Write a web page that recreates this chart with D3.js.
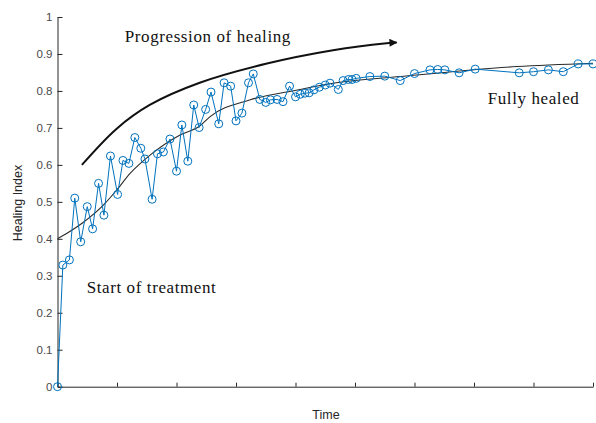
<!DOCTYPE html>
<html>
<head>
<meta charset="utf-8">
<script src="https://cdn.jsdelivr.net/npm/d3@7"></script>
<style>
  html, body { margin: 0; padding: 0; background: #fff; }
  svg { display: block; }
  .axis path, .axis line { stroke: #262626; }
  .axis text { fill: #4a4a4a; font-family: "Liberation Sans", Arial, sans-serif; font-size: 11.5px; }
</style>
</head>
<body>
<div id="chart"></div>
<script>
// measured samples (time, healing index)
var timePoints = [0, 0.09, 0.20, 0.29, 0.39, 0.50, 0.59, 0.69, 0.78, 0.89,
  1.01, 1.10, 1.20, 1.30, 1.40, 1.47, 1.59, 1.68, 1.78, 1.89,
  2.00, 2.09, 2.19, 2.29, 2.38, 2.49, 2.58, 2.71, 2.80, 2.91,
  3.00, 3.10, 3.21, 3.29, 3.40, 3.50, 3.58, 3.69, 3.79, 3.90,
  4.00, 4.08, 4.16, 4.23, 4.31, 4.40, 4.50, 4.58, 4.72, 4.80,
  4.89, 4.95, 5.02, 5.25, 5.50, 5.76, 6.00, 6.26, 6.39, 6.51,
  6.75, 7.02, 7.76, 8.00, 8.25, 8.50, 8.75, 9.00];
var healingIndex = [0, 0.329, 0.343, 0.510, 0.392, 0.487, 0.427, 0.550, 0.464, 0.624,
  0.520, 0.612, 0.604, 0.674, 0.645, 0.616, 0.507, 0.630, 0.635, 0.670,
  0.583, 0.708, 0.610, 0.762, 0.701, 0.750, 0.797, 0.711, 0.822, 0.813,
  0.719, 0.740, 0.822, 0.846, 0.777, 0.769, 0.776, 0.777, 0.771, 0.813,
  0.784, 0.791, 0.794, 0.795, 0.803, 0.810, 0.816, 0.821, 0.804, 0.828,
  0.831, 0.831, 0.834, 0.839, 0.840, 0.828, 0.847, 0.857, 0.858, 0.857,
  0.849, 0.859, 0.849, 0.852, 0.857, 0.852, 0.873, 0.873];

// smooth trend line
var fitTime = [0, 0.16, 0.43, 0.77, 1.0, 1.22, 1.56, 2.06, 2.39, 2.56, 3.24, 4.08, 4.63, 5.76, 7.72, 9.0];
var fitValue = [0.400, 0.415, 0.444, 0.491, 0.533, 0.577, 0.627, 0.681, 0.705, 0.730, 0.776, 0.804, 0.821, 0.839, 0.866, 0.875];

// "progression" arrow path
var arrowTime = [0.41, 0.995, 1.55, 2.39, 3.52, 4.63, 5.53, 5.70];
var arrowValue = [0.600, 0.698, 0.762, 0.822, 0.874, 0.910, 0.929, 0.931];

var yTicks = [0, 0.1, 0.2, 0.3, 0.4, 0.5, 0.6, 0.7, 0.8, 0.9, 1];
var xTicks = [0, 1, 2, 3, 4, 5, 6, 7, 8, 9];

var notes = [
  { text: 'Progression of healing', t: 1.13, v: 0.933 },
  { text: 'Start of treatment', t: 0.49, v: 0.254 },
  { text: 'Fully healed', t: 7.23, v: 0.765 }
];

var W = 596, H = 423;

var svg = d3.select('#chart').append('svg')
  .attr('width', W)
  .attr('height', H);

var x = d3.scaleLinear().domain([0, 9]).range([57.5, 593]);
var y = d3.scaleLinear().domain([0, 1]).range([386.7, 17]);

// axes, MATLAB style ticks pointing inward
svg.append('g')
  .attr('class', 'axis')
  .attr('transform', 'translate(0,' + y(0) + ')')
  .call(d3.axisBottom(x).tickValues(xTicks).tickSizeInner(-4).tickSizeOuter(0).tickFormat(''));

svg.append('g')
  .attr('class', 'axis')
  .attr('transform', 'translate(' + x(0) + ',0)')
  .call(d3.axisLeft(y).tickValues(yTicks).tickSizeInner(-5).tickSizeOuter(0)
    .tickPadding(5).tickFormat(d3.format('~g')));

svg.append('text')
  .attr('transform', 'translate(22,' + 203 + ') rotate(-90)')
  .attr('text-anchor', 'middle')
  .style('font-family', '"Liberation Sans", Arial, sans-serif')
  .style('font-size', '12.5px')
  .style('fill', '#262626')
  .text('Healing Index');

// sits at the very bottom edge, like the cropped original
svg.append('text')
  .attr('x', 326)
  .attr('y', 419)
  .attr('text-anchor', 'middle')
  .style('font-family', '"Liberation Sans", Arial, sans-serif')
  .style('font-size', '12.5px')
  .style('fill', '#262626')
  .text('Time');

// fitted trend
var fitLine = d3.line()
  .x(function(d) { return x(d[0]); })
  .y(function(d) { return y(d[1]); })
  .curve(d3.curveMonotoneX);

svg.append('path')
  .datum(d3.zip(fitTime, fitValue))
  .attr('d', fitLine)
  .attr('fill', 'none')
  .attr('stroke', '#2a2a2a')
  .attr('stroke-width', 1.1);

// arrow
svg.append('defs').append('marker')
  .attr('id', 'head')
  .attr('viewBox', '0 0 10 10')
  .attr('refX', 9)
  .attr('refY', 5)
  .attr('markerWidth', 5)
  .attr('markerHeight', 4)
  .attr('markerUnits', 'strokeWidth')
  .attr('orient', 'auto')
  .append('path')
    .attr('d', 'M0,0 L10,5 L0,10 Z')
    .attr('fill', '#111');

svg.append('path')
  .datum(d3.zip(arrowTime, arrowValue))
  .attr('d', d3.line()
    .x(function(d) { return x(d[0]); })
    .y(function(d) { return y(d[1]); })
    .curve(d3.curveCatmullRom))
  .attr('fill', 'none')
  .attr('stroke', '#111')
  .attr('stroke-width', 2)
  .attr('marker-end', 'url(#head)');

// measured series
var blue = '#0072BD';
var pts = d3.zip(timePoints, healingIndex);

svg.append('path')
  .datum(pts)
  .attr('d', d3.line()
    .x(function(d) { return x(d[0]); })
    .y(function(d) { return y(d[1]); }))
  .attr('fill', 'none')
  .attr('stroke', blue)
  .attr('stroke-width', 1);

svg.selectAll('circle.pt')
  .data(pts)
  .enter()
  .append('circle')
  .attr('class', 'pt')
  .attr('cx', function(d) { return x(d[0]); })
  .attr('cy', function(d) { return y(d[1]); })
  .attr('r', 4)
  .attr('fill', 'none')
  .attr('stroke', blue)
  .attr('stroke-width', 1);

// annotations
svg.selectAll('text.note')
  .data(notes)
  .enter()
  .append('text')
  .attr('class', 'note')
  .attr('x', function(d) { return x(d.t); })
  .attr('y', function(d) { return y(d.v); })
  .style('font-family', '"Liberation Serif", "Times New Roman", serif')
  .style('font-size', '17px')
  .style('letter-spacing', '0.6px')
  .style('fill', '#111')
  .text(function(d) { return d.text; });
</script>
</body>
</html>
